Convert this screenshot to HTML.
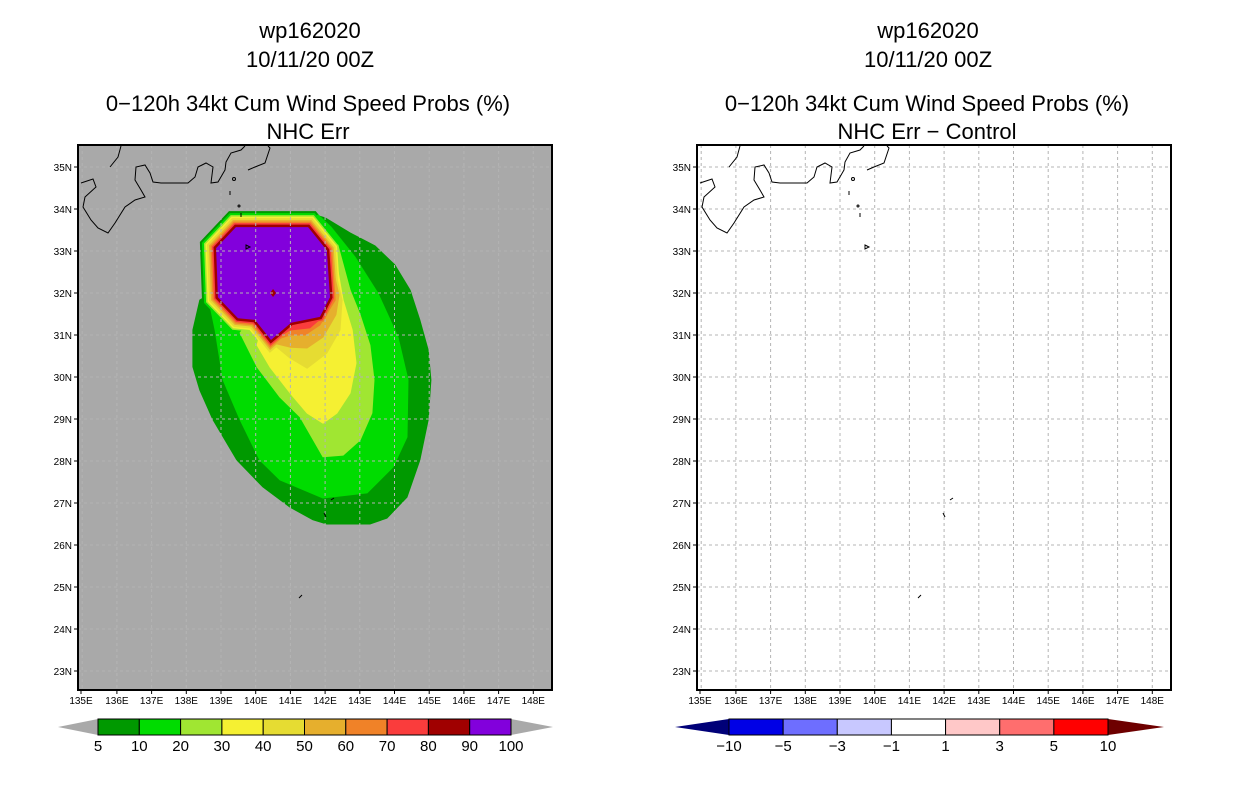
<!DOCTYPE html>
<html><head><meta charset="utf-8">
<style>
html,body{margin:0;padding:0;background:#fff;}
svg{display:block;font-family:"Liberation Sans",sans-serif;}
.t{font-size:22px;text-anchor:middle;fill:#000;}
.ax{font-size:10px;fill:#000;}
</style></head>
<body>
<svg id="fig" width="1236" height="800" viewBox="0 0 1236 800">
<g>
<text class="t" x="310" y="38">wp162020</text>
<text class="t" x="310" y="67">10/11/20 00Z</text>
<text class="t" x="308" y="111">0−120h 34kt Cum Wind Speed Probs (%)</text>
<text class="t" x="308" y="139">NHC Err</text>
</g>
<g>
<text class="t" x="928" y="38">wp162020</text>
<text class="t" x="928" y="67">10/11/20 00Z</text>
<text class="t" x="927" y="111">0−120h 34kt Cum Wind Speed Probs (%)</text>
<text class="t" x="927" y="139">NHC Err − Control</text>
</g>
<g id="left"></g>
<g id="right"></g>
<g id="cbl"></g>
<g id="cbr"></g>
</svg>
<script>
const NS="http://www.w3.org/2000/svg";
// ---- data ----
const latTicks=[23,24,25,26,27,28,29,30,31,32,33,34,35];
const lonTicks=[135,136,137,138,139,140,141,142,143,144,145,146,147,148];
const lonTickLabels=["135E","136E","137E","138E","139E","140E","141E","142E","143E","144E","145E","146E","147E","148E"];
const levels=[5,10,20,30,40,50,60,70,80,90];
const levelColors=["#009900","#00dc00","#a0e632","#f5f032","#e6dc32","#e6af2d","#f08228","#fa3c3c","#a00000","#8200dc"];
const coreOffsets=[16,14,12,10.5,9,7,5.5,4,2.5,0];
const core=[[139.43,33.57],[141.51,33.57],[142.05,33.02],[142.14,31.90],[141.85,31.43],[141.02,31.29],[140.44,30.88],[139.98,31.36],[139.49,31.40],[138.91,31.90],[138.86,33.07]];
const tail5=[[141.42,33.93],[142.00,33.79],[142.72,33.43],[143.44,33.12],[144.01,32.67],[144.45,32.07],[144.73,31.36],[144.97,30.64],[145.05,29.93],[144.97,28.98],[144.73,28.02],[144.36,27.14],[143.78,26.64],[143.29,26.50],[142.05,26.50],[141.65,26.60],[140.99,26.90],[140.21,27.38],[139.46,28.02],[138.77,28.98],[138.39,29.69],[138.19,30.24],[138.19,31.12],[138.39,31.83],[139.84,32.55],[141.28,33.26]];
const tail10=[[141.80,33.86],[142.17,33.57],[142.86,32.86],[143.52,32.00],[144.10,30.95],[144.39,29.93],[144.36,28.57],[143.96,27.86],[143.21,27.24],[141.94,27.12],[140.70,27.55],[140.12,28.02],[139.55,28.98],[139.06,29.93],[138.83,31.12],[138.68,31.71],[140.12,32.79]];
const tail20=[[142.37,33.14],[142.72,32.07],[143.01,31.48],[143.29,30.76],[143.41,29.93],[143.35,29.14],[143.01,28.50],[142.52,28.14],[141.94,28.10],[141.28,29.05],[140.70,29.52],[140.04,30.24],[139.55,31.05],[139.84,31.36]];
const tail30=[[142.29,32.90],[142.52,31.83],[142.78,31.12],[142.89,30.33],[142.72,29.62],[142.34,29.14],[141.94,28.90],[141.48,29.14],[140.99,29.62],[140.41,30.24],[140.04,30.76],[140.12,31.00]];
const tail40=[[142.23,32.74],[142.49,31.83],[142.43,31.12],[142.05,30.57],[141.48,30.21],[140.99,30.45],[140.61,30.71]];
const tail50=[[142.20,32.67],[142.40,31.95],[142.31,31.48],[141.94,30.95],[141.48,30.69],[140.99,30.71],[140.50,30.81]];
const tail60=[[142.17,32.55],[142.29,31.83],[141.85,31.24],[141.42,31.00],[140.99,31.00],[140.56,30.88]];
const tail70=[[142.23,32.07],[142.00,31.48],[141.56,31.17],[140.99,31.12],[140.47,30.86]];
const tails=[tail5,tail10,tail20,tail30,tail40,tail50,tail60,tail70,null,null];
const rightLevels=["−10","−5","−3","−1","1","3","5","10"];
const rightColors=["#0000e6","#6e6eff","#c8c8ff","#ffffff","#ffc8c8","#ff6e6e","#ff0000"];
// ---- helpers ----
function el(tag,attrs,parent){const e=document.createElementNS(NS,tag);for(const k in attrs)e.setAttribute(k,attrs[k]);parent.appendChild(e);return e;}
const X0=78,X1=552,Y0=145,Y1=690;
function xs(lon){return 221+(lon-139)*34.7;}
function ys(lat){return 293-(lat-32)*42;}
function pts(arr,dx){return arr.map(p=>(xs(p[0])+dx).toFixed(1)+","+ys(p[1]).toFixed(1)).join(" ");}
const coast1="81,183 93,179 96,187 85,197 83,207 91,220 98,228 108,233 115,223 125,207 135,200 145,197 141,190 135,180 136,167 145,165 150,173 153,182 161,183 188,183 195,177 198,167 206,163 213,167 211,183 218,182 225,170 226,162 231,153 241,150 245,146";
const coast2="248,170 255,167 265,163 270,148 268,146";
const coast3="110,167 118,157 121,146";
function drawMap(gid,dx,bg,filled){
 const g=document.getElementById(gid);
 const clipId="clip"+gid;
 const cp=el("clipPath",{id:clipId},g);el("rect",{x:X0+dx,y:Y0,width:X1-X0,height:Y1-Y0},cp);
 const bgr=el("rect",{x:X0+dx,y:Y0,width:X1-X0,height:Y1-Y0,fill:bg},g);
 
 
 const inner=el("g",{"clip-path":"url(#"+clipId+")"},g);
 if(filled){
  levels.forEach((lv,i)=>{
   const lg=el("g",{},inner);
   
   
   const c=levelColors[i];
   el("polygon",{points:pts(core,dx),fill:c,stroke:c,"stroke-width":coreOffsets[i]*2,"stroke-linejoin":"miter"},lg);
   if(tails[i]) el("polygon",{points:pts(tails[i],dx),fill:c,stroke:c,"stroke-width":1,"stroke-linejoin":"round"},lg);
  });
  const dm=el("polygon",{points:`${xs(140.5)-3},${ys(32)} ${xs(140.5)},${ys(32)-4} ${xs(140.5)+3},${ys(32)} ${xs(140.5)},${ys(32)+4}`,fill:"#a00000"},inner);
  
  
 }
 // grid
 const gg=el("g",{stroke:"#b4b4b4","stroke-width":1,"stroke-dasharray":"3,3"},inner);
 
 
 lonTicks.forEach(l=>{el("line",{x1:xs(l)+dx,x2:xs(l)+dx,y1:Y0,y2:Y1},gg);});
 latTicks.forEach(l=>{el("line",{x1:X0+dx,x2:X1+dx,y1:ys(l),y2:ys(l)},gg);});
 // coast
 const cg=el("g",{fill:"none",stroke:"#000","stroke-width":1,transform:`translate(${dx},0)`},inner);
 
 
 [coast1,coast2,coast3].forEach(p=>el("polyline",{points:p},cg));
 el("circle",{cx:234,cy:179,r:1.5},cg);
 el("line",{x1:230,y1:191,x2:230,y2:195},cg);
 el("circle",{cx:239,cy:206,r:1},cg);
 el("line",{x1:241,y1:213,x2:241,y2:217},cg);
 el("path",{d:"M246,245 L250,247 L246,249 Z"},cg);
 el("path",{d:"M331,500 L334,498 M324,513 L326,517 M299,598 L302,595"},cg);
 // frame
 const fr=el("rect",{x:X0+dx,y:Y0,width:X1-X0,height:Y1-Y0,fill:"none",stroke:"#000","stroke-width":2},g);
 
 
 // ticks
 latTicks.forEach(l=>{
  el("line",{x1:X0+dx-4,x2:X0+dx,y1:ys(l),y2:ys(l),stroke:"#000"},g);
  const t=el("text",{x:X0+dx-6,y:ys(l)+4,"text-anchor":"end",class:"ax"},g);t.textContent=l+"N";
  
  
 });
 lonTicks.forEach((l,i)=>{
  const x=(i==0?X0+3:xs(l))+dx;
  el("line",{x1:x,x2:x,y1:Y1,y2:Y1+4,stroke:"#000"},g);
  const t=el("text",{x:x,y:Y1+14,"text-anchor":"middle",class:"ax"},g);t.textContent=lonTickLabels[i];
  
  
 });
}
drawMap("left",0,"#a9a9a9",true);
drawMap("right",619,"#ffffff",false);
// left colorbar
(function(){
 const g=document.getElementById("cbl");
 const x0=98,x1=511,y0=719,y1=735,w=(x1-x0)/levelColors.length;
 el("polygon",{points:`58,727 ${x0},${y0} ${x0},${y1}`,fill:"#a9a9a9"},g);
 el("polygon",{points:`${x1},${y0} 553,727 ${x1},${y1}`,fill:"#a9a9a9"},g);
 levelColors.forEach((c,i)=>{
  const r=el("rect",{x:x0+i*w,y:y0,width:w,height:y1-y0,fill:c,stroke:"#000","stroke-width":1},g);
  
  
 });
 levels.concat([100]).forEach((v,i)=>{
  const t=el("text",{x:x0+i*w,y:751,"text-anchor":"middle","font-size":"15"},g);t.textContent=v;
  
  
 });
})();
// right colorbar
(function(){
 const g=document.getElementById("cbr");
 const x0=729,x1=1108,y0=719,y1=735,w=(x1-x0)/rightColors.length;
 el("polygon",{points:`675,727 ${x0},${y0} ${x0},${y1}`,fill:"#000078"},g);
 el("polygon",{points:`${x1},${y0} 1164,727 ${x1},${y1}`,fill:"#6e0000"},g);
 rightColors.forEach((c,i)=>{
  const r=el("rect",{x:x0+i*w,y:y0,width:w,height:y1-y0,fill:c,stroke:"#000","stroke-width":1},g);
  
  
 });
 rightLevels.forEach((v,i)=>{
  const t=el("text",{x:x0+i*w,y:751,"text-anchor":"middle","font-size":"15"},g);t.textContent=v;
  
  
 });
})();
</script>
</body></html>
